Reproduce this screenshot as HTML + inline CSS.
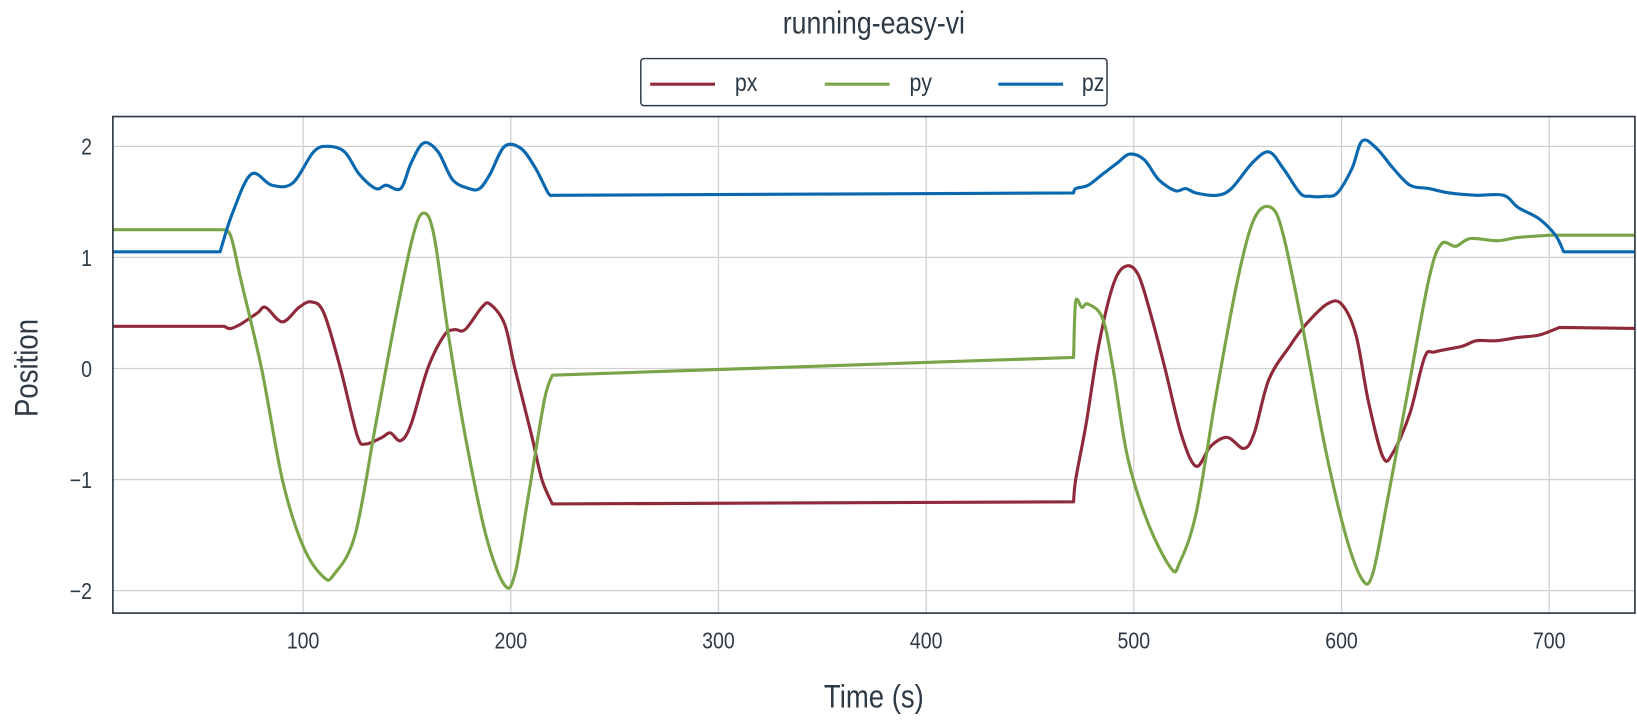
<!DOCTYPE html>
<html><head><meta charset="utf-8"><style>
html,body{margin:0;padding:0;background:#fff;}
svg{display:block;font-family:"Liberation Sans",sans-serif;}
</style></head><body>
<svg id="chart" width="1637" height="728" viewBox="0 0 1566 696.4" xmlns="http://www.w3.org/2000/svg">
<g id="grid"></g>
<g id="series"></g>
<rect x="108" y="111.5" width="1456" height="475" fill="none" stroke="#2e3a46" stroke-width="1.6"/>
<g id="ticks"></g>
<text x="836" y="32" text-anchor="middle" font-size="30" fill="#2e3a46" transform="translate(836,0) scale(0.85,1) translate(-836,0)">running-easy-vi</text>
<text x="836" y="677" text-anchor="middle" font-size="31" fill="#2e3a46" transform="translate(836,0) scale(0.85,1) translate(-836,0)">Time (s)</text>
<text x="0" y="0" text-anchor="middle" font-size="31" fill="#2e3a46" transform="translate(36,352) rotate(-90) scale(0.85,1)">Position</text>
<g>
<rect x="613" y="56" width="446" height="45" rx="3" fill="#fff" stroke="#2e3a46" stroke-width="1.4"/>
<g><line x1="622" y1="80.5" x2="684" y2="80.5" stroke="#8e2a3a" stroke-width="3"/><text x="0" y="0" font-size="24" fill="#2e3a46" transform="translate(703,87) scale(0.85,1)">px</text></g>
<g><line x1="789" y1="80.5" x2="851" y2="80.5" stroke="#79a548" stroke-width="3"/><text x="0" y="0" font-size="24" fill="#2e3a46" transform="translate(870,87) scale(0.85,1)">py</text></g>
<g><line x1="955" y1="80.5" x2="1017" y2="80.5" stroke="#0a69ae" stroke-width="3"/><text x="0" y="0" font-size="24" fill="#2e3a46" transform="translate(1035,87) scale(0.85,1)">pz</text></g>
</g>
</svg>
<script>
const pxT=[8,62,65,70,78,82,90,98,104,110,118,126,130,138,142,147,152,160,168,173,178,186,190,197,202,210,215,220,471,472,477,483,490,496,502,508,515,523,530,537,545,553,558,565,575,583,593,600,607,613,620,625,633,640,645,658,665,675,685,695,705,745];
const pxV=[0.38,0.38,0.36,0.4,0.5,0.55,0.42,0.55,0.6,0.5,0,-0.6,-0.68,-0.62,-0.58,-0.65,-0.5,0,0.3,0.35,0.35,0.55,0.58,0.4,0,-0.6,-1,-1.22,-1.2,-1.0,-0.5,0.2,0.75,0.92,0.85,0.5,0,-0.6,-0.88,-0.7,-0.62,-0.72,-0.58,-0.1,0.2,0.4,0.58,0.58,0.3,-0.3,-0.8,-0.75,-0.4,0.1,0.15,0.2,0.25,0.25,0.28,0.3,0.37,0.36];
const pyT=[8,60,65,70,80,90,100,110,115,125,135,145,153,158,163,170,178,188,197,202,208,216,220,471,472,475,478,485,490,497,507,518,522,530,540,550,558,566,572,582,592,602,610,615,622,632,642,648,655,662,675,685,700,745];
const pyV=[1.25,1.25,1.2,0.8,0,-1,-1.6,-1.88,-1.85,-1.5,-0.5,0.5,1.2,1.4,1.2,0.3,-0.6,-1.5,-1.95,-1.85,-1.2,-0.3,-0.06,0.1,0.6,0.55,0.58,0.45,0,-0.8,-1.4,-1.8,-1.75,-1.3,-0.2,0.8,1.35,1.45,1.2,0.3,-0.7,-1.5,-1.9,-1.85,-1.2,-0.2,0.8,1.12,1.1,1.17,1.15,1.18,1.2,1.2];
const pzT=[8,60,66,75,85,95,105,112,120,127,135,140,147,152,158,165,172,180,185,190,197,205,212,218,220,471,472,478,485,492,498,505,512,520,525,530,540,547,557,565,572,580,585,592,598,605,610,617,625,633,642,652,665,678,685,695,703,707,745];
const pzV=[1.05,1.05,1.4,1.75,1.65,1.67,1.95,2.0,1.95,1.75,1.62,1.65,1.62,1.85,2.03,1.95,1.7,1.62,1.62,1.75,2.0,1.98,1.8,1.58,1.56,1.58,1.62,1.65,1.75,1.85,1.93,1.88,1.7,1.6,1.62,1.58,1.56,1.62,1.85,1.95,1.8,1.58,1.55,1.55,1.58,1.8,2.05,1.98,1.8,1.65,1.62,1.58,1.56,1.56,1.45,1.35,1.2,1.05,1.05];
const xTicks=[100,200,300,400,500,600,700];
const yTicks=[-2,-1,0,1,2];
const NS='http://www.w3.org/2000/svg';
const L=108,R=1564,T=111.5,B=586.5;
const xs=t=>91.3+(t)*1.9867;
const ys=v=>352.5-v*106.25;
const grid=document.getElementById('grid'),ticks=document.getElementById('ticks'),ser=document.getElementById('series');
function mk(tag,a,p){const e=document.createElementNS(NS,tag);for(const k in a)e.setAttribute(k,a[k]);p.appendChild(e);return e;}
xTicks.forEach(t=>{
 const g=mk('line',{x1:xs(t),x2:xs(t),y1:T,y2:B,stroke:'#d0d0d0','stroke-width':1.2},grid);
 
 
 const tx=mk('text',{x:0,y:0,'text-anchor':'middle','font-size':22,fill:'#2e3a46',transform:'translate('+xs(t)+','+(B+34)+') scale(0.85,1)'},ticks);
 tx.textContent=t;
 
 
});
yTicks.forEach(v=>{
 const g=mk('line',{x1:L,x2:R,y1:ys(v),y2:ys(v),stroke:'#d0d0d0','stroke-width':1.2},grid);
 
 
 const tx=mk('text',{x:0,y:0,'text-anchor':'end','font-size':22,fill:'#2e3a46',transform:'translate('+(L-20)+','+(ys(v)+8)+') scale(0.85,1)'},ticks);
 tx.textContent=(v<0?'\u2212':'')+Math.abs(v);
 
 
});
const cp=mk('clipPath',{id:'clip'},document.getElementById('chart'));
mk('rect',{x:L,y:T,width:R-L,height:B-T},cp);
function smooth(P){
 let d='M'+P[0][0].toFixed(1)+' '+P[0][1].toFixed(1);
 for(let i=0;i<P.length-1;i++){
  const p1=P[i],p2=P[i+1];
  if(p2[0]-p1[0]>30){d+=' L'+p2[0].toFixed(1)+' '+p2[1].toFixed(1);continue;}
  let p0=P[i-1]||p1,p3=P[i+2]||p2;
  if(p1[0]-p0[0]>30)p0=p1;
  if(p3[0]-p2[0]>30)p3=p2;
  const k=1/6;
  let c1=[p1[0]+(p2[0]-p0[0])*k,p1[1]+(p2[1]-p0[1])*k];
  let c2=[p2[0]-(p3[0]-p1[0])*k,p2[1]-(p3[1]-p1[1])*k];
  c1[0]=Math.min(Math.max(c1[0],p1[0]),p2[0]);c2[0]=Math.min(Math.max(c2[0],p1[0]),p2[0]);
  d+=' C'+c1[0].toFixed(1)+' '+c1[1].toFixed(1)+' '+c2[0].toFixed(1)+' '+c2[1].toFixed(1)+' '+p2[0].toFixed(1)+' '+p2[1].toFixed(1);
 }
 return d;
}
[[pxT,pxV,'#8e2a3a','px-line'],[pyT,pyV,'#79a548','py-line'],[pzT,pzV,'#0a69ae','pz-line']].forEach(([t,v,c,n])=>{
 const P=t.map((tt,i)=>[xs(tt),ys(v[i])]);
 const p=mk('path',{d:smooth(P),fill:'none',stroke:c,'stroke-width':3,'stroke-linejoin':'round','clip-path':'url(#clip)'},ser);
 
 
});
</script>
</body></html>
